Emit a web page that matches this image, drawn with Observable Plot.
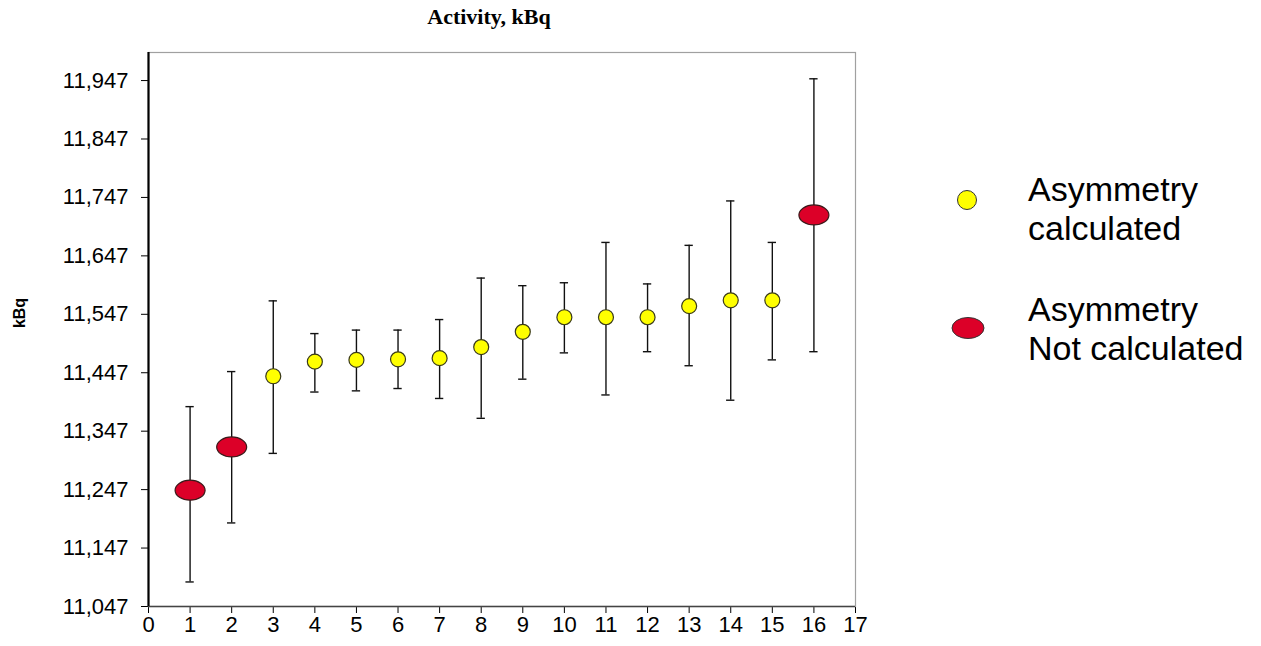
<!DOCTYPE html>
<html>
<head>
<meta charset="utf-8">
<script src="https://cdn.jsdelivr.net/npm/d3@7"></script>
<script src="https://cdn.jsdelivr.net/npm/@observablehq/plot@0.6"></script>
<style>
  html, body { margin: 0; padding: 0; background: #fff; }
  #wrap { position: relative; width: 1261px; height: 646px; font-family: "Liberation Sans", Arial, sans-serif; }
  #wrap svg { position: absolute; left: 0; top: 0; }
  #title { position: absolute; left: 339px; width: 300px; top: 4px; text-align: center; font-family: "Liberation Serif", "Times New Roman", serif; font-weight: bold; font-size: 22px; color: #000; }
  #ylab { position: absolute; left: 20px; top: 313px; transform: translate(-50%, -50%) rotate(-90deg); font-weight: bold; font-size: 16px; color: #000; white-space: nowrap; }
  .leg { position: absolute; left: 1028px; font-size: 34px; line-height: 39px; color: #000; }
  .legsym { position: absolute; }
</style>
</head>
<body>
<div id="wrap">
  <div id="chart"></div>
  <div id="title">Activity, kBq</div>
  <div id="ylab">kBq</div>
  <svg class="legsym" style="left:950px;top:185px" width="32" height="30"><circle cx="17" cy="15" r="9.5" fill="#FFFF00" stroke="#333" stroke-width="1"/></svg>
  <div class="leg" style="top:170px">Asymmetry<br>calculated</div>
  <svg class="legsym" style="left:948px;top:313px" width="40" height="30"><ellipse cx="20" cy="15" rx="16" ry="10.5" fill="#DC0028" stroke="#333" stroke-width="1"/></svg>
  <div class="leg" style="top:290px">Asymmetry<br>Not calculated</div>
</div>
<script>
// ---- data ----
const sampleIds = [1, 2, 3, 4, 5, 6, 7, 8, 9, 10, 11, 12, 13, 14, 15, 16];
const activity  = [11246, 11320, 11441, 11466, 11469, 11470, 11472, 11491, 11517, 11542, 11542, 11542, 11561, 11571, 11571, 11717];
const lowerBound = [11089, 11190, 11309, 11414, 11416, 11420, 11403, 11369, 11436, 11481, 11409, 11483, 11459, 11400, 11469, 11483];
const upperBound = [11389, 11449, 11570, 11514, 11520, 11520, 11538, 11609, 11596, 11601, 11670, 11599, 11665, 11741, 11670, 11950];
const asymmetry  = ["Not calculated", "Not calculated", "calculated", "calculated", "calculated", "calculated", "calculated", "calculated",
                    "calculated", "calculated", "calculated", "calculated", "calculated", "calculated", "calculated", "Not calculated"];
const yTicks = [11047, 11147, 11247, 11347, 11447, 11547, 11647, 11747, 11847, 11947];
const xTicks = d3.range(0, 18);

const rows = sampleIds.map((id, i) => ({
  id, value: activity[i], lo: lowerBound[i], hi: upperBound[i], status: asymmetry[i]
}));
const calc = rows.filter(d => d.status === "calculated");
const notCalc = rows.filter(d => d.status !== "calculated");

// ellipse symbol (wider than tall)
const ellipseSymbol = {
  draw(ctx, size) {
    const r = Math.sqrt(size / Math.PI);
    const rx = r * 1.5, ry = r, k = 0.5523;
    ctx.moveTo(rx, 0);
    ctx.bezierCurveTo(rx, ry * k, rx * k, ry, 0, ry);
    ctx.bezierCurveTo(-rx * k, ry, -rx, ry * k, -rx, 0);
    ctx.bezierCurveTo(-rx, -ry * k, -rx * k, -ry, 0, -ry);
    ctx.bezierCurveTo(rx * k, -ry, rx, -ry * k, rx, 0);
    ctx.closePath();
  }
};

const capHalf = 0.1;

const chart = Plot.plot({
  width: 1261,
  height: 646,
  marginLeft: 148,
  marginRight: 406,
  marginTop: 52,
  marginBottom: 40,
  style: { fontFamily: "'Liberation Sans', Arial, sans-serif", fontSize: "22px", color: "#000", background: "#fff" },
  x: { domain: [0, 17], ticks: xTicks, tickSize: 7, tickPadding: 3, label: null, tickFormat: d3.format("d") },
  y: { domain: [11047, 11995], ticks: yTicks, tickSize: 7, tickPadding: 13, label: null, tickFormat: d3.format(",") },
  marks: [
    Plot.frame({ stroke: "#a0a0a0", strokeWidth: 1.2 }),
    Plot.ruleY([11047], { stroke: "#444", strokeWidth: 1.5 }),
    Plot.ruleX([0], { stroke: "#000", strokeWidth: 2.2 }),
    Plot.ruleX(rows, { x: "id", y1: "lo", y2: "hi", stroke: "#111", strokeWidth: 1.4 }),
    Plot.ruleY(rows, { y: "lo", x1: d => d.id - capHalf, x2: d => d.id + capHalf, stroke: "#111", strokeWidth: 1.4 }),
    Plot.ruleY(rows, { y: "hi", x1: d => d.id - capHalf, x2: d => d.id + capHalf, stroke: "#111", strokeWidth: 1.4 }),
    Plot.dot(calc, { x: "id", y: "value", r: 7.5, fill: "#FFFF00", stroke: "#3a3a1a", strokeWidth: 1.2 }),
    Plot.dot(notCalc, { x: "id", y: "value", r: 10, symbol: ellipseSymbol, fill: "#DC0028", stroke: "#3a1a1a", strokeWidth: 1.2 })
  ]
});
document.getElementById("chart").appendChild(chart);
</script>
</body>
</html>
